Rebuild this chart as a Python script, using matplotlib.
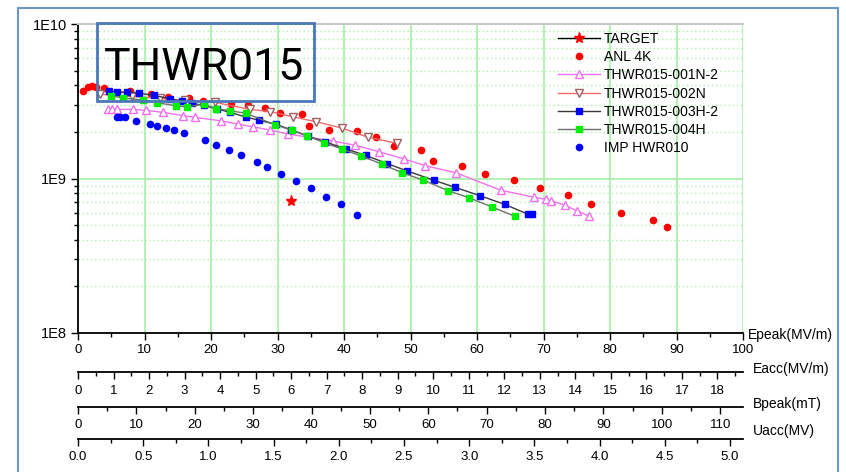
import matplotlib.pyplot as plt
from matplotlib.patches import Rectangle
from matplotlib.ticker import MultipleLocator, FixedLocator, FixedFormatter, LogLocator, NullFormatter

plt.rcParams['font.family'] = ['Liberation Sans', 'DejaVu Sans']

# Q0 vs Epeak
target_ep = [32.0]
target_q = [7.2e8]

anl_ep = [0.75, 1.5, 2.1, 2.7, 3.9, 7.8, 11.0, 13.5, 16.7, 18.8, 23.0, 25.6, 28.1, 30.4,
          33.7, 34.7, 37.7, 42.0, 44.8, 47.5, 51.6, 53.4, 57.7, 61.2, 65.6, 69.5, 73.7,
          77.1, 81.7, 86.5, 88.6]
anl_q = [3.68, 3.91, 3.97, 3.91, 3.85, 3.68, 3.52, 3.37, 3.32, 3.18, 3.03, 2.99, 2.86, 2.65,
         2.61, 2.19, 2.06, 2.03, 1.86, 1.62, 1.53, 1.30, 1.20, 1.07, 0.977, 0.868, 0.782,
         0.684, 0.598, 0.539, 0.485]

n001_ep = [4.5, 5.1, 5.9, 8.3, 10.2, 12.8, 15.8, 17.6, 21.5, 24.1, 26.3, 28.9, 31.6, 38.3,
           41.7, 45.3, 49.0, 52.2, 56.8, 63.6, 68.6, 70.4, 71.1, 73.2, 75.0, 76.8]
n001_q = [2.80, 2.80, 2.80, 2.80, 2.76, 2.68, 2.55, 2.49, 2.36, 2.25, 2.16, 2.06, 1.94, 1.75,
          1.64, 1.49, 1.34, 1.21, 1.09, 0.839, 0.756, 0.733, 0.718, 0.673, 0.619, 0.572]

n002_ep = [3.3, 6.5, 8.1, 12.3, 16.1, 20.6, 25.9, 28.9, 32.3, 35.8, 39.7, 43.6, 48.0]
n002_q = [3.52, 3.40, 3.40, 3.30, 3.20, 3.11, 2.80, 2.71, 2.51, 2.33, 2.12, 1.85, 1.69]

h003_ep = [4.66, 5.86, 7.37, 9.17, 11.43, 13.83, 15.64, 17.14, 18.95, 20.90, 22.86, 25.26,
           27.22, 29.77, 32.03, 34.59, 37.14, 40.30, 43.31, 46.47, 49.47, 53.53, 56.69,
           60.45, 64.21, 67.67, 68.27]
h003_q = [3.70, 3.64, 3.61, 3.56, 3.45, 3.28, 3.17, 3.07, 2.97, 2.82, 2.68, 2.50, 2.38, 2.24,
          2.07, 1.88, 1.73, 1.55, 1.41, 1.25, 1.12, 0.973, 0.877, 0.774, 0.679, 0.587, 0.590]

h004_ep = [4.96, 6.77, 9.77, 11.88, 14.74, 16.39, 18.95, 20.75, 22.86, 25.26, 29.62, 32.18,
           34.44, 36.99, 39.70, 42.56, 45.71, 48.72, 51.88, 55.64, 58.80, 62.26, 65.71]
h004_q = [3.44, 3.32, 3.22, 3.09, 2.96, 2.90, 3.03, 2.83, 2.75, 2.64, 2.23, 2.05, 1.89, 1.71,
          1.55, 1.40, 1.24, 1.09, 0.978, 0.834, 0.751, 0.654, 0.569]

imp_ep = [5.86, 6.32, 7.07, 8.72, 10.83, 11.88, 13.23, 14.44, 15.94, 19.10, 20.75, 22.71,
          24.51, 26.92, 28.42, 30.53, 32.78, 35.04, 37.29, 39.55, 41.95]
imp_q = [2.50, 2.50, 2.50, 2.36, 2.25, 2.20, 2.12, 2.06, 1.98, 1.78, 1.65, 1.52, 1.43, 1.28,
         1.18, 1.07, 0.968, 0.862, 0.763, 0.681, 0.583]

# extra scales under the Epeak axis (value at the right end of each line)
eacc_max = 18.72
bpeak_max = 113.9
uacc_max = 5.10

W, H = 846, 472
fig = plt.figure(figsize=(W / 100, H / 100), dpi=100)
X0, X1 = 78, 743
ax = fig.add_axes([X0 / W, (H - 333) / H, (X1 - X0) / W, (333 - 24) / H])

e9 = 1e9
ax.plot(target_ep, target_q, color='black', lw=1, marker='*', ms=8, mfc='red', mec='red',
        label='TARGET')
ax.plot(anl_ep, [q * e9 for q in anl_q], ls='none', marker='o', ms=4.5, color='red',
        label='ANL 4K')
ax.plot(n001_ep, [q * e9 for q in n001_q], color='#f070f0', lw=1, marker='^', ms=5.5,
        mfc='white', mec='#f070f0', label='THWR015-001N-2')
ax.plot(n002_ep, [q * e9 for q in n002_q], color='#f06a6a', lw=1, marker='v', ms=5.5,
        mfc='white', mec='#a06060', label='THWR015-002N')
ax.plot(h003_ep, [q * e9 for q in h003_q], color='#3a3a3a', lw=1, marker='s', ms=4.2,
        mfc='#0000ff', mec='#0000ff', label='THWR015-003H-2')
ax.plot(h004_ep, [q * e9 for q in h004_q], color='#707070', lw=1, marker='s', ms=4.2,
        mfc='#00ee00', mec='#00ee00', label='THWR015-004H')
ax.plot(imp_ep, [q * e9 for q in imp_q], ls='none', marker='o', ms=4.5, color='#0000ff',
        label='IMP HWR010')

ax.set_yscale('log')
ax.set_xlim(0, 100)
ax.set_ylim(1e8, 1e10)
ax.xaxis.set_major_locator(MultipleLocator(10))
ax.xaxis.set_minor_locator(MultipleLocator(5))
ax.yaxis.set_major_locator(FixedLocator([1e8, 1e9, 1e10]))
ax.yaxis.set_major_formatter(FixedFormatter(['1E8', '1E9', '1E10']))
ax.yaxis.set_minor_locator(LogLocator(base=10, subs=range(2, 10)))
ax.yaxis.set_minor_formatter(NullFormatter())
ax.tick_params(which='major', direction='out', length=5, width=1, labelsize=9.5, pad=3)
ax.tick_params(axis='y', which='major', labelsize=10.5)
ax.tick_params(which='minor', direction='out', length=3, width=1)

ax.grid(axis='x', which='major', color='#a6f0a6', lw=1.2)
ax.grid(axis='y', which='major', color='#a6f0a6', lw=1.2)
ax.grid(axis='y', which='minor', color='#b4ecb4', lw=1, ls=(0, (1, 2)))
ax.get_xgridlines()[-1].set_visible(False)
ax.set_axisbelow(True)

ax.spines['right'].set_visible(False)
ax.spines['top'].set_color('#c8c8c8')
ax.spines['top'].set_linewidth(1.5)
for s in ('left', 'bottom'):
    ax.spines[s].set_linewidth(1.3)

ax.legend(loc='upper left', bbox_to_anchor=(558 / W, (H - 32) / H),
          bbox_transform=fig.transFigure, frameon=False, fontsize=10, borderpad=0,
          borderaxespad=0, handlelength=3.0, handletextpad=0.3, labelspacing=0.3)


def add_scale(ypix, xmax, major, minor, fmt):
    a = fig.add_axes([X0 / W, (H - ypix) / H, (X1 - X0) / W, 1e-4])
    a.patch.set_alpha(0)
    for s in ('left', 'right', 'top'):
        a.spines[s].set_visible(False)
    a.spines['bottom'].set_linewidth(1.3)
    a.set_yticks([])
    a.set_xlim(0, xmax)
    a.xaxis.set_major_locator(MultipleLocator(major))
    a.xaxis.set_minor_locator(MultipleLocator(minor))
    a.xaxis.set_major_formatter(fmt)
    a.tick_params(which='major', direction='out', length=5, width=1, labelsize=9.5, pad=4)
    a.tick_params(which='minor', direction='out', length=3, width=1)
    return a


add_scale(372, eacc_max, 1, 0.5, '{x:.0f}')
add_scale(407, bpeak_max, 10, 5, '{x:.0f}')
add_scale(439, uacc_max, 0.5, 0.25, '{x:.1f}')

fig.text(748 / W, (H - 335) / H, 'Epeak(MV/m)', fontsize=10, va='center')
fig.text(753 / W, (H - 369) / H, 'Eacc(MV/m)', fontsize=10, va='center')
fig.text(753 / W, (H - 404) / H, 'Bpeak(mT)', fontsize=10, va='center')
fig.text(753 / W, (H - 431) / H, 'Uacc(MV)', fontsize=10, va='center')

# name box and outer frame
fig.add_artist(Rectangle((97 / W, (H - 101) / H), 217 / W, 78 / H, transform=fig.transFigure,
                         fill=False, ec='#4a78b8', lw=2))
fig.text(204 / W, (H - 80) / H, 'THWR015', fontsize=32, family='Roboto', ha='center',
         va='baseline')
fig.add_artist(Rectangle((18 / W, -0.05), 820 / W, (H - 8) / H + 0.05,
                         transform=fig.transFigure, fill=False, ec='#6d96cc', lw=1.5))

fig.savefig('out.png', dpi=100)
